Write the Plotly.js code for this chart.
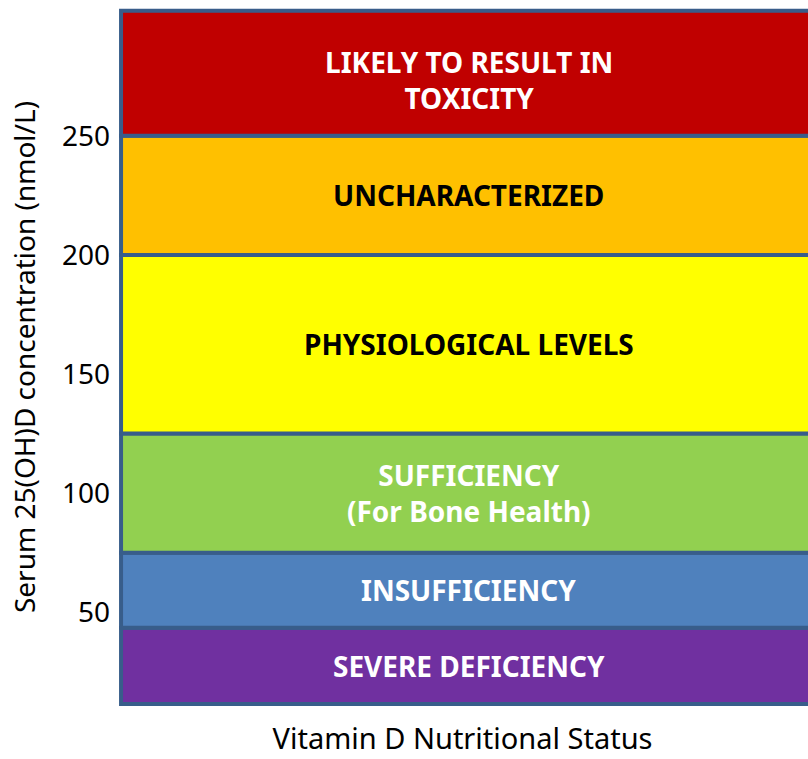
<!DOCTYPE html>
<html>
<head>
<meta charset="utf-8">
<script src="https://cdn.plot.ly/plotly-3.0.1.min.js"></script>
<style>html,body{margin:0;padding:0;background:#fff;}#chart{width:808px;height:759px;}</style>
</head>
<body>
<div id="chart"></div>
<script>
// Band labels (bottom to top)
var bandLabels = [
  "SEVERE DEFICIENCY",
  "INSUFFICIENCY",
  "SUFFICIENCY<br>(For Bone Health)",
  "PHYSIOLOGICAL LEVELS",
  "UNCHARACTERIZED",
  "LIKELY TO RESULT IN<br>TOXICITY"
];
// Band bounds in nmol/L
var bandLow  = [11.5, 43.5, 75, 125, 200, 250];
var bandHigh = [43.5, 75, 125, 200, 250, 302.5];
var bandColors = ["#7030A0", "#4F81BD", "#92D050", "#FFFF00", "#FFC000", "#C00000"];
var labelColors = ["#FFFFFF", "#FFFFFF", "#FFFFFF", "#000000", "#000000", "#FFFFFF"];
var yTicks = [50, 100, 150, 200, 250];

var heights = bandHigh.map(function (h, i) { return h - bandLow[i]; });

var trace = {
  type: "bar",
  x: bandLabels.map(function () { return 0; }),
  y: heights,
  base: bandLow,
  width: 1,
  marker: { color: bandColors, line: { color: "#385D8A", width: 4 } },
  text: bandLabels,
  textposition: "none",
  hoverinfo: "text",
  showlegend: false
};

var annotations = bandLabels.map(function (lab, i) {
  return {
    xref: "paper", yref: "y",
    x: 0.509, y: (bandLow[i] + bandHigh[i]) / 2,
    yshift: i === 5 ? -7 : 0,
    text: "<b>" + lab + "</b>",
    showarrow: false,
    font: { family: "Noto Sans, sans-serif", size: 28, color: labelColors[i] }
  };
});

var layout = {
  width: 808, height: 759,
  margin: { l: 117, r: 0, t: 6, b: 51, pad: 0 },
  paper_bgcolor: "#FFFFFF",
  plot_bgcolor: "#FFFFFF",
  barmode: "overlay",
  xaxis: {
    range: [-0.5056, 0.45],
    showticklabels: false, showgrid: false, zeroline: false, showline: false, ticks: "",
    fixedrange: true,
    title: { text: "Vitamin D Nutritional Status", standoff: 20,
             font: { family: "Noto Sans, sans-serif", size: 29, color: "#000000" } }
  },
  yaxis: {
    range: [9.78, 304.5],
    tickvals: yTicks,
    ticktext: yTicks.map(String),
    ticks: "", showgrid: false, zeroline: false, showline: false,
    ticklabelstandoff: 6,
    tickfont: { family: "Noto Sans, sans-serif", size: 28, color: "#000000" },
    fixedrange: true,
    title: { text: "Serum 25(OH)D concentration (nmol/L)", standoff: 18,
             font: { family: "Noto Sans, sans-serif", size: 28, color: "#000000" } }
  },
  annotations: annotations
};

Plotly.newPlot("chart", [trace], layout, { displayModeBar: false, staticPlot: true });
</script>
</body>
</html>
